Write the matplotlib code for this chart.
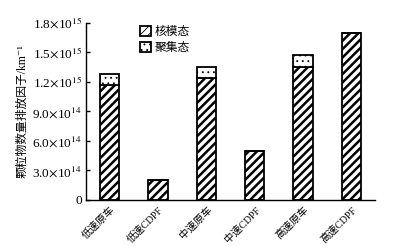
import matplotlib
matplotlib.use('Agg')
import matplotlib.pyplot as plt
from matplotlib.ticker import FixedLocator

plt.rcParams['font.family'] = ['Liberation Serif', 'Noto Sans CJK SC', 'DejaVu Sans']
plt.rcParams['mathtext.fontset'] = 'stix'

# data
categories = ['低速原车', '低速CDPF', '中速原车', '中速CDPF', '高速原车', '高速CDPF']
nuclei = [1.17e15, 2.0e14, 1.235e15, 5.0e14, 1.35e15, 1.69e15]
accum = [1.05e14, 0.0, 1.15e14, 0.0, 1.17e14, 0.6e13]
ytick_vals = [0, 3e14, 6e14, 9e14, 1.2e15, 1.5e15, 1.8e15]
ytick_labels = ['0', r'3.0$\times$10$^{14}$', r'6.0$\times$10$^{14}$', r'9.0$\times$10$^{14}$',
                r'1.2$\times$10$^{15}$', r'1.5$\times$10$^{15}$', r'1.8$\times$10$^{15}$']

fig = plt.figure(figsize=(4.1, 2.49), dpi=100)
ax = fig.add_axes([0.21, 0.197, 0.705, 0.712])

x = list(range(len(categories)))
plt.rcParams['hatch.linewidth'] = 1.8
b1 = ax.bar(x, nuclei, width=0.4, color='white', edgecolor='black', linewidth=1.3,
            hatch='////', label='核模态')
plt.rcParams['hatch.linewidth'] = 0.6
b2 = ax.bar(x, accum, width=0.4, bottom=nuclei, color='white', edgecolor='black',
            linewidth=1.3, hatch='...', label='聚集态')
for p in b1:
    try:
        p.set_hatch_linewidth(1.8)
    except AttributeError:
        pass
for p in b2:
    try:
        p.set_hatch_linewidth(0.6)
    except AttributeError:
        pass

ax.set_xlim(-0.49, 5.49)
ax.set_ylim(0, 1.8e15)
ax.yaxis.set_major_locator(FixedLocator(ytick_vals))
ax.set_yticklabels(ytick_labels, fontsize=9.5)
ax.set_xticks(x)
ax.set_xticklabels(categories, rotation=45, ha='right', va='top', fontsize=7.5,
                   rotation_mode='anchor')
ax.tick_params(axis='y', direction='in', length=3, width=1, pad=3)
ax.tick_params(axis='x', length=0, pad=3)
ax.spines['top'].set_visible(False)
ax.spines['right'].set_visible(False)
ax.spines['left'].set_linewidth(1)
ax.spines['bottom'].set_linewidth(1)

ax.set_ylabel('颗粒物数量排放因子/km⁻¹', fontsize=8.5, labelpad=3)

ax.legend(loc='upper left', bbox_to_anchor=(0.15, 1.04), frameon=False, fontsize=8.5,
          handlelength=0.9, handleheight=0.9, handletextpad=0.3, labelspacing=0.3)

fig.savefig('out.png', dpi=100)
